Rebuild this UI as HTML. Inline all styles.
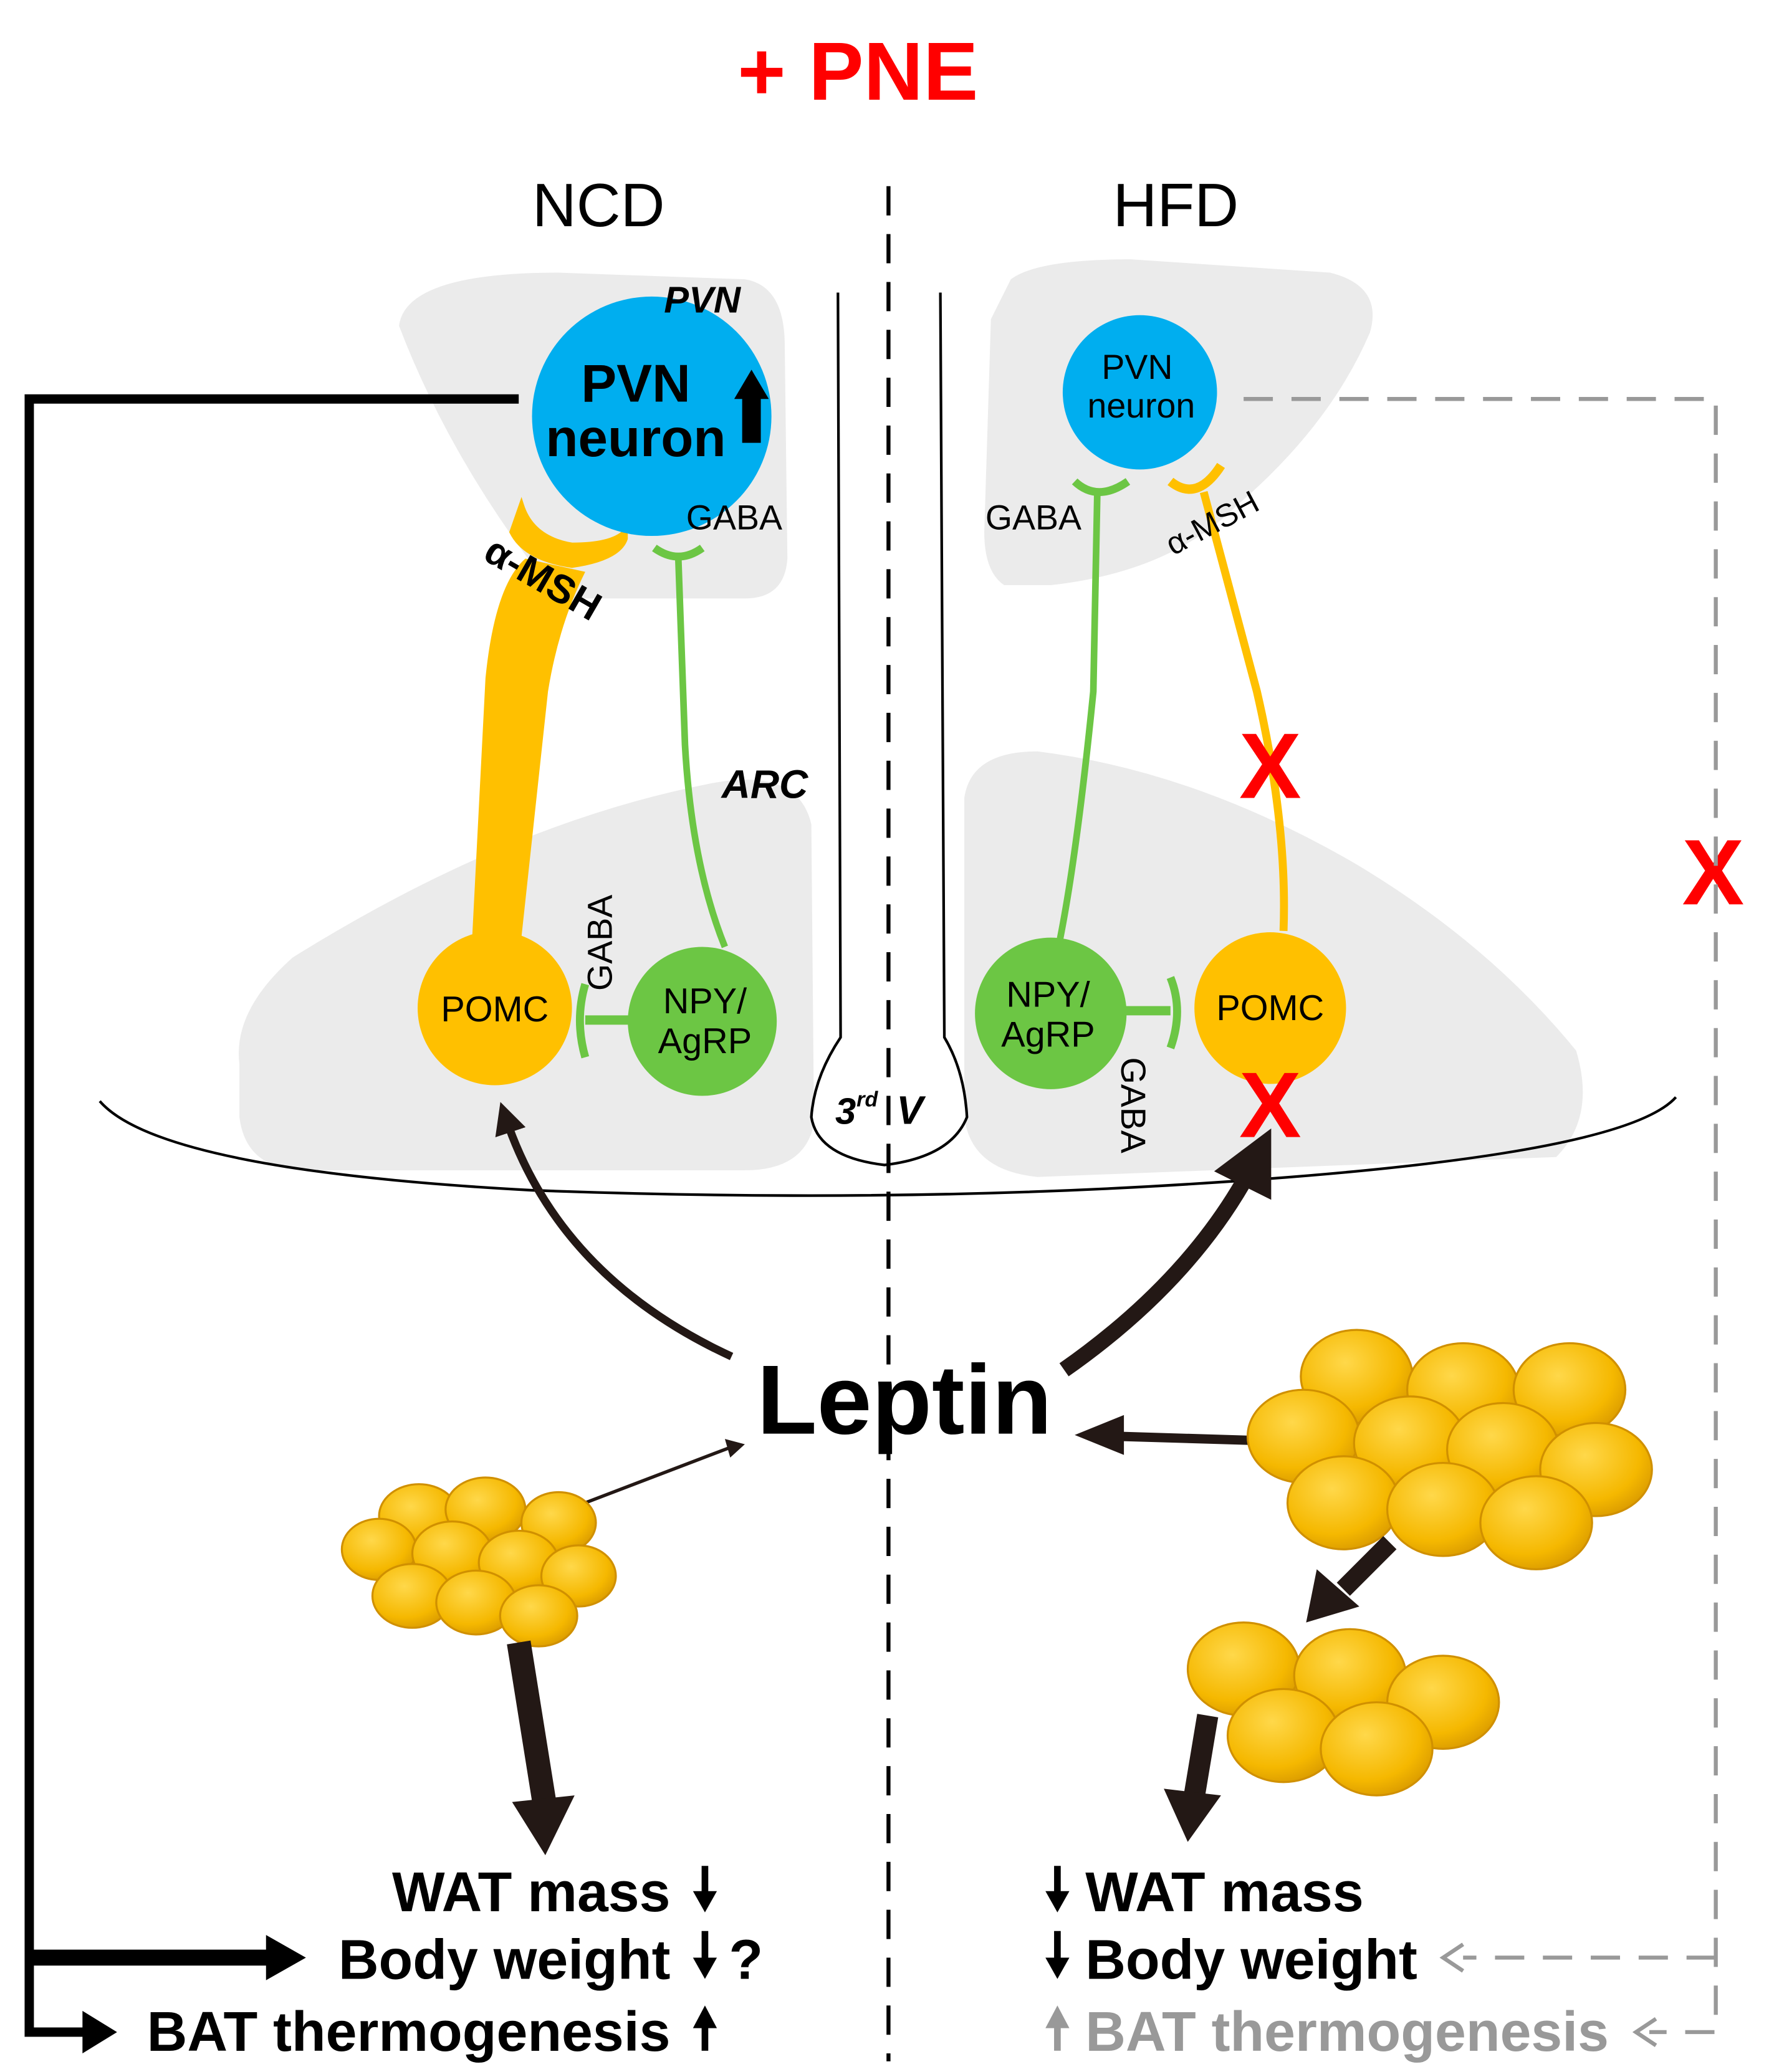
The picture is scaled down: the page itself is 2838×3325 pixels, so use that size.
<!DOCTYPE html>
<html><head><meta charset="utf-8"><style>
html,body{margin:0;padding:0;background:#fff}
svg{display:block}
text{font-family:"Liberation Sans",Arial,sans-serif}
</style></head><body>
<svg width="2838" height="3325" viewBox="0 0 1330 1558" preserveAspectRatio="none" xmlns="http://www.w3.org/2000/svg">
<defs>
<radialGradient id="fat" cx="0.4" cy="0.35" r="0.7">
<stop offset="0" stop-color="#FFD84A"/><stop offset="0.7" stop-color="#F5B800"/><stop offset="1" stop-color="#D99A00"/>
</radialGradient>
<marker id="ah" viewBox="0 0 10 10" refX="5" refY="5" markerWidth="4" markerHeight="4" orient="auto-start-reverse"><path d="M0,0 L10,5 L0,10 z" fill="#231815"/></marker>
</defs>

<text x="645" y="75" font-size="62" font-weight="bold" fill="#FF0000" text-anchor="middle">+ PNE</text>
<text x="450" y="170" font-size="46" text-anchor="middle">NCD</text>
<text x="884" y="170" font-size="46" text-anchor="middle">HFD</text>

<!-- gray regions -->
<path d="M300,245 Q305,205 420,205 L560,210 Q590,215 590,260 L592,420 Q590,450 560,450 L420,450 Q340,350 300,245 z" fill="#EBEBEB"/>
<path d="M760,210 Q780,195 850,195 L1000,205 Q1040,215 1030,250 Q1000,320 930,380 Q880,430 790,440 L755,440 Q740,430 740,400 L745,240 z" fill="#EBEBEB"/>
<path d="M180,800 Q175,760 220,720 Q380,620 530,590 Q600,575 610,620 L612,845 Q605,880 560,880 L230,880 Q185,880 180,840 z" fill="#EBEBEB"/>
<path d="M725,600 Q730,565 780,565 Q900,580 1020,650 Q1120,710 1185,790 Q1200,840 1170,870 L780,885 Q730,880 725,840 z" fill="#EBEBEB"/>

<!-- ventricle -->
<path d="M630,220 L632,780 Q612,810 610,840 Q615,870 665,876 Q715,870 727,840 Q725,805 710,780 L707,220" fill="#fff" stroke="#000" stroke-width="2"/>
<text x="628" y="845" font-size="28" font-style="italic" font-weight="bold">3</text>
<text x="644" y="832" font-size="16" font-style="italic" font-weight="bold">rd</text>
<text x="674" y="845" font-size="30" font-style="italic" font-weight="bold">V</text>

<path d="M75,828 Q120,880 400,895 Q668,905 900,890 Q1220,870 1260,825" fill="none" stroke="#000" stroke-width="2"/>

<line x1="668" y1="140" x2="668" y2="1550" stroke="#000" stroke-width="3" stroke-dasharray="22,14"/>

<!-- left axons -->
<path d="M355,705 L365,510 Q372,440 395,420 L440,430 Q420,470 412,520 L392,705 z" fill="#FFC000"/>
<path d="M392,380 Q400,405 430,410 Q460,410 470,400 L470,405 Q465,420 430,425 Q395,420 385,400 z" fill="#FFC000" stroke="#FFC000" stroke-width="4"/>
<path d="M545,712 Q520,650 515,560 L510,420" fill="none" stroke="#6CC644" stroke-width="5"/>
<path d="M492,412 Q510,425 528,412" fill="none" stroke="#6CC644" stroke-width="6"/>
<line x1="478" y1="767" x2="440" y2="767" stroke="#6CC644" stroke-width="7"/>
<path d="M440,740 Q432,767 440,795" fill="none" stroke="#6CC644" stroke-width="6"/>

<!-- right axons -->
<path d="M797,706 Q810,640 822,520 L825,370" fill="none" stroke="#6CC644" stroke-width="5"/>
<path d="M808,362 Q825,378 848,362" fill="none" stroke="#6CC644" stroke-width="6"/>
<path d="M965,700 Q968,620 945,520 L905,370" fill="none" stroke="#FFC000" stroke-width="6"/>
<path d="M880,362 Q900,378 918,350" fill="none" stroke="#FFC000" stroke-width="7"/>
<line x1="845" y1="760" x2="880" y2="760" stroke="#6CC644" stroke-width="7"/>
<path d="M880,735 Q890,760 880,788" fill="none" stroke="#6CC644" stroke-width="6"/>

<!-- neurons -->
<circle cx="490" cy="313" r="90" fill="#00AEEF"/>
<text x="478" y="302" font-size="40" font-weight="bold" text-anchor="middle">PVN</text>
<text x="478" y="343" font-size="40" font-weight="bold" text-anchor="middle">neuron</text>
<path d="M558,333 L558,300 L552,300 L565,278 L578,300 L572,300 L572,333 z" fill="#000"/>
<circle cx="857" cy="295" r="58" fill="#00AEEF"/>
<text x="855" y="285" font-size="26" text-anchor="middle">PVN</text>
<text x="858" y="314" font-size="26" text-anchor="middle">neuron</text>

<circle cx="372" cy="758" r="58" fill="#FFC000"/>
<text x="372" y="768" font-size="27" text-anchor="middle">POMC</text>
<circle cx="528" cy="768" r="56" fill="#6CC644"/>
<text x="530" y="762" font-size="27" text-anchor="middle">NPY/</text>
<text x="530" y="792" font-size="27" text-anchor="middle">AgRP</text>
<circle cx="790" cy="762" r="57" fill="#6CC644"/>
<text x="788" y="757" font-size="27" text-anchor="middle">NPY/</text>
<text x="788" y="787" font-size="27" text-anchor="middle">AgRP</text>
<circle cx="955" cy="758" r="57" fill="#FFC000"/>
<text x="955" y="767" font-size="27" text-anchor="middle">POMC</text>

<text x="528" y="235" font-size="28" font-weight="bold" font-style="italic" text-anchor="middle">PVN</text>
<text x="552" y="398" font-size="26" text-anchor="middle">GABA</text>
<text x="575" y="600" font-size="30" font-weight="bold" font-style="italic" text-anchor="middle">ARC</text>
<text x="0" y="0" font-size="26" transform="translate(460,745) rotate(-90)">GABA</text>
<text x="0" y="0" font-size="30" font-weight="bold" transform="translate(362,420) rotate(30)">α-MSH</text>
<text x="777" y="398" font-size="26" text-anchor="middle">GABA</text>
<text x="0" y="0" font-size="24" transform="translate(882,418) rotate(-28)">α-MSH</text>
<text x="0" y="0" font-size="26" transform="translate(843,795) rotate(90)">GABA</text>

<text x="955" y="600" font-size="70" font-weight="bold" fill="#FF0000" text-anchor="middle">X</text>
<text x="955" y="855" font-size="70" font-weight="bold" fill="#FF0000" text-anchor="middle">X</text>
<text x="1288" y="680" font-size="70" font-weight="bold" fill="#FF0000" text-anchor="middle">X</text>

<path d="M390,300 L22,300 L22,1528 L65,1528" fill="none" stroke="#000" stroke-width="7"/>
<line x1="22" y1="1472" x2="205" y2="1472" stroke="#000" stroke-width="12"/>
<path d="M200,1455 L230,1472 L200,1489 z" fill="#000"/>
<path d="M62,1512 L88,1528 L62,1544 z" fill="#000"/>

<path d="M935,300 L1290,300 L1290,1528 L1240,1528 M1290,1472 L1100,1472" fill="none" stroke="#999" stroke-width="3" stroke-dasharray="22,14"/>
<path d="M1100,1462 L1085,1472 L1100,1482" fill="none" stroke="#999" stroke-width="3"/>
<path d="M1245,1518 L1230,1528 L1245,1538" fill="none" stroke="#999" stroke-width="3"/>

<text x="680" y="1078" font-size="74" font-weight="bold" text-anchor="middle">Leptin</text>
<path d="M550,1020 Q420,960 380,840" fill="none" stroke="#231815" stroke-width="6" marker-end="url(#ah)"/>
<path d="M800,1030 Q900,960 945,870" fill="none" stroke="#231815" stroke-width="12" marker-end="url(#ah)"/>
<path d="M440,1130 L550,1088" fill="none" stroke="#231815" stroke-width="2.5"/>
<path d="M545,1082 L560,1086 L549,1096 z" fill="#231815"/>
<line x1="940" y1="1083" x2="840" y2="1080" stroke="#231815" stroke-width="7"/>
<path d="M845,1064 L808,1079 L845,1094 z" fill="#231815"/>

<g fill="url(#fat)" stroke="#D09000" stroke-width="1.5">
<ellipse cx="315" cy="1140" rx="30" ry="24"/><ellipse cx="365" cy="1135" rx="30" ry="24"/><ellipse cx="420" cy="1145" rx="28" ry="23"/>
<ellipse cx="285" cy="1165" rx="28" ry="23"/><ellipse cx="340" cy="1168" rx="30" ry="24"/><ellipse cx="390" cy="1175" rx="30" ry="24"/><ellipse cx="435" cy="1185" rx="28" ry="23"/>
<ellipse cx="310" cy="1200" rx="30" ry="24"/><ellipse cx="358" cy="1205" rx="30" ry="24"/><ellipse cx="405" cy="1215" rx="29" ry="23"/>
</g>
<path d="M390,1235 L410,1360" stroke="#231815" stroke-width="18"/>
<path d="M385,1355 L410,1395 L432,1350 z" fill="#231815"/>

<g fill="url(#fat)" stroke="#D09000" stroke-width="1.5">
<ellipse cx="1020" cy="1035" rx="42" ry="35"/><ellipse cx="1100" cy="1045" rx="42" ry="35"/><ellipse cx="1180" cy="1045" rx="42" ry="35"/>
<ellipse cx="980" cy="1080" rx="42" ry="35"/><ellipse cx="1060" cy="1085" rx="42" ry="35"/><ellipse cx="1130" cy="1090" rx="42" ry="35"/><ellipse cx="1200" cy="1105" rx="42" ry="35"/>
<ellipse cx="1010" cy="1130" rx="42" ry="35"/><ellipse cx="1085" cy="1135" rx="42" ry="35"/><ellipse cx="1155" cy="1145" rx="42" ry="35"/>
</g>
<path d="M1045,1160 L1010,1195" stroke="#231815" stroke-width="14"/>
<path d="M990,1180 L982,1220 L1022,1208 z" fill="#231815"/>
<g fill="url(#fat)" stroke="#D09000" stroke-width="1.5">
<ellipse cx="935" cy="1255" rx="42" ry="35"/><ellipse cx="1015" cy="1260" rx="42" ry="35"/><ellipse cx="1085" cy="1280" rx="42" ry="35"/>
<ellipse cx="965" cy="1305" rx="42" ry="35"/><ellipse cx="1035" cy="1315" rx="42" ry="35"/>
</g>
<path d="M908,1290 L898,1350" stroke="#231815" stroke-width="16"/>
<path d="M875,1345 L893,1385 L918,1350 z" fill="#231815"/>

<g font-size="42" font-weight="bold">
<text x="504" y="1437" text-anchor="end">WAT mass</text>
<text x="504" y="1488" text-anchor="end">Body weight</text>
<text x="504" y="1542" text-anchor="end">BAT thermogenesis</text>
<text x="548" y="1488">?</text>
<text x="816" y="1437">WAT mass</text>
<text x="816" y="1488">Body weight</text>
<text x="816" y="1542" fill="#999">BAT thermogenesis</text>
</g>
<g stroke-width="5">
<line x1="530" y1="1403" x2="530" y2="1425" stroke="#000"/><path d="M521,1422 L530,1438 L539,1422 z"/>
<line x1="530" y1="1452" x2="530" y2="1475" stroke="#000"/><path d="M521,1472 L530,1488 L539,1472 z"/>
<line x1="530" y1="1542" x2="530" y2="1522" stroke="#000"/><path d="M521,1525 L530,1508 L539,1525 z"/>
<line x1="795" y1="1403" x2="795" y2="1425" stroke="#000"/><path d="M786,1422 L795,1438 L804,1422 z"/>
<line x1="795" y1="1452" x2="795" y2="1475" stroke="#000"/><path d="M786,1472 L795,1488 L804,1472 z"/>
<line x1="795" y1="1542" x2="795" y2="1522" stroke="#999"/><path d="M786,1525 L795,1508 L804,1525 z" fill="#999"/>
</g>
</svg>
</body></html>
